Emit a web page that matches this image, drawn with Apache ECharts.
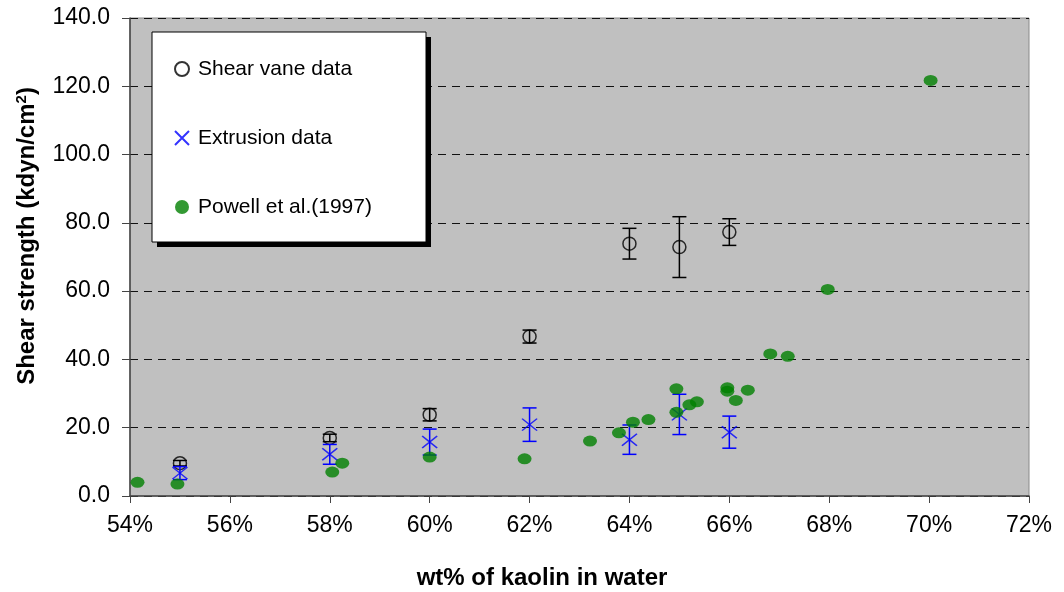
<!DOCTYPE html>
<html>
<head>
<meta charset="utf-8">
<script src="https://cdn.jsdelivr.net/npm/echarts@6/dist/echarts.min.js"></script>
<style>
  html, body { margin: 0; padding: 0; background: #fff; }
  #chart { width: 1064px; height: 592px; }
</style>
</head>
<body>
<div id="chart"></div>
<script>
'use strict';

// kaolin content (%) of the measured samples
var shearX = [55, 58, 60, 62, 64, 65, 66];
var shearY = [9.6, 17.0, 23.8, 46.7, 73.9, 72.9, 77.3];
var shearErr = [0.8, 1.1, 1.8, 1.9, 4.5, 8.9, 3.9];

var extX = [55, 58, 60, 62, 64, 65, 66];
var extY = [6.7, 12.2, 15.8, 20.9, 16.5, 23.9, 18.7];
var extErr = [1.9, 2.9, 3.8, 4.9, 4.3, 5.9, 4.7];

// Powell et al.(1997)
var powellX = [54.15, 54.95, 58.05, 58.25, 60.0, 61.9, 63.21, 63.79, 64.07, 64.38, 64.94, 64.94, 65.2, 65.35, 65.96, 65.96, 66.13, 66.37, 66.82, 67.17, 67.97, 70.03];
var powellY = [4.0, 3.5, 7.0, 9.6, 11.4, 10.9, 16.1, 18.5, 21.6, 22.4, 31.4, 24.5, 26.7, 27.6, 31.7, 30.7, 28.0, 31.0, 41.6, 40.9, 60.5, 121.7];

var FONT = '"Liberation Sans", Arial, sans-serif';

function pairs(xs, ys) {
    var out = [];
    for (var i = 0; i < xs.length; i++) {
        out.push([xs[i], ys[i]]);
    }
    return out;
}

function bars(xs, ys, errs) {
    var out = [];
    for (var i = 0; i < xs.length; i++) {
        out.push([xs[i], ys[i] - errs[i], ys[i] + errs[i]]);
    }
    return out;
}

// 误差线
function errorBar(color) {
    return function (params, api) {
        var x = api.value(0);
        var lo = api.coord([x, api.value(1)]);
        var hi = api.coord([x, api.value(2)]);
        var w = 7;
        var st = { stroke: color, lineWidth: 1.5 };
        return {
            type: 'group',
            children: [
                { type: 'line', shape: { x1: lo[0], y1: lo[1], x2: hi[0], y2: hi[1] }, style: st },
                { type: 'line', shape: { x1: lo[0] - w, y1: lo[1], x2: lo[0] + w, y2: lo[1] }, style: st },
                { type: 'line', shape: { x1: hi[0] - w, y1: hi[1], x2: hi[0] + w, y2: hi[1] }, style: st }
            ]
        };
    };
}

var myChart = echarts.init(document.getElementById('chart'));

var option = {
    animation: false,
    grid: {
        left: 130, right: 35, top: 18, bottom: 96,
        show: true, backgroundColor: '#c0c0c0', borderColor: '#8a8a8a', borderWidth: 1
    },
    legend: {
        orient: 'vertical',
        left: 152, top: 32,
        padding: [26, 40, 24, 22],
        itemGap: 47,
        itemWidth: 22, itemHeight: 14,
        textStyle: { fontFamily: FONT, fontSize: 21, color: '#000', lineHeight: 22 },
        data: ['Shear vane data', 'Extrusion data', 'Powell et al.(1997)'],
        z: 10
    },
    xAxis: {
        type: 'value', min: 54, max: 72, interval: 2,
        axisLine: { show: true, lineStyle: { color: '#444', width: 1.5 } },
        axisTick: { show: true, inside: false, length: 7, lineStyle: { color: '#444' } },
        axisLabel: {
            margin: 18, color: '#000', fontFamily: FONT, fontSize: 23,
            formatter: function (v) { return v + '%'; }
        },
        splitLine: { show: false }
    },
    yAxis: {
        type: 'value', min: 0, max: 140, interval: 20,
        axisLine: { show: true, lineStyle: { color: '#444', width: 1.5 } },
        axisTick: { show: true, inside: false, length: 8, lineStyle: { color: '#444' } },
        axisLabel: {
            margin: 20, color: '#000', fontFamily: FONT, fontSize: 23,
            formatter: function (v) { return v.toFixed(1); }
        },
        splitLine: { show: true, lineStyle: { color: '#111', type: [8, 6], width: 1 } }
    },
    graphic: [
        // legend box + shadow
        {
            type: 'rect', z: 8,
            shape: { x: 157, y: 37, width: 274, height: 210 },
            style: { fill: '#000' }
        },
        {
            type: 'rect', z: 9,
            shape: { x: 152, y: 32, width: 274, height: 210 },
            style: { fill: '#fff', stroke: '#000', lineWidth: 1 }
        },
        {
            type: 'text', x: 27, y: 236, rotation: Math.PI / 2,
            style: {
                text: '{a|Shear strength (kdyn/cm}{b|2}{a|)}',
                align: 'center', verticalAlign: 'middle',
                rich: {
                    a: { fontFamily: FONT, fontWeight: 'bold', fontSize: 24, lineHeight: 26, fill: '#000' },
                    b: { fontFamily: FONT, fontWeight: 'bold', fontSize: 15, verticalAlign: 'top', fill: '#000' }
                }
            }
        },
        {
            type: 'text', x: 542, y: 578,
            style: {
                text: 'wt% of kaolin in water',
                align: 'center', verticalAlign: 'middle',
                fontFamily: FONT, fontWeight: 'bold', fontSize: 24, fill: '#000'
            }
        }
    ],
    series: [
        {
            name: 'shear-err', type: 'custom', renderItem: errorBar('#000'),
            data: bars(shearX, shearY, shearErr), z: 2
        },
        {
            name: 'Shear vane data', type: 'scatter',
            symbol: 'circle', symbolSize: 13,
            itemStyle: { color: 'rgba(0,0,0,0)', borderColor: '#000', borderWidth: 1.5 },
            data: pairs(shearX, shearY), z: 3
        },
        {
            name: 'ext-err', type: 'custom', renderItem: errorBar('#0000ff'),
            data: bars(extX, extY, extErr), z: 4
        },
        {
            name: 'Extrusion data', type: 'scatter',
            symbol: 'path://M0,0L10,10M10,0L0,10', symbolSize: [15, 12],
            itemStyle: { color: 'rgba(0,0,0,0)', borderColor: '#0000ff', borderWidth: 1.5 },
            data: pairs(extX, extY), z: 5
        },
        {
            name: 'Powell et al.(1997)', type: 'scatter',
            symbol: 'circle', symbolSize: [14, 11],
            itemStyle: { color: '#008000' },
            data: pairs(powellX, powellY), z: 6
        }
    ]
};

myChart.setOption(option);
</script>
</body>
</html>
